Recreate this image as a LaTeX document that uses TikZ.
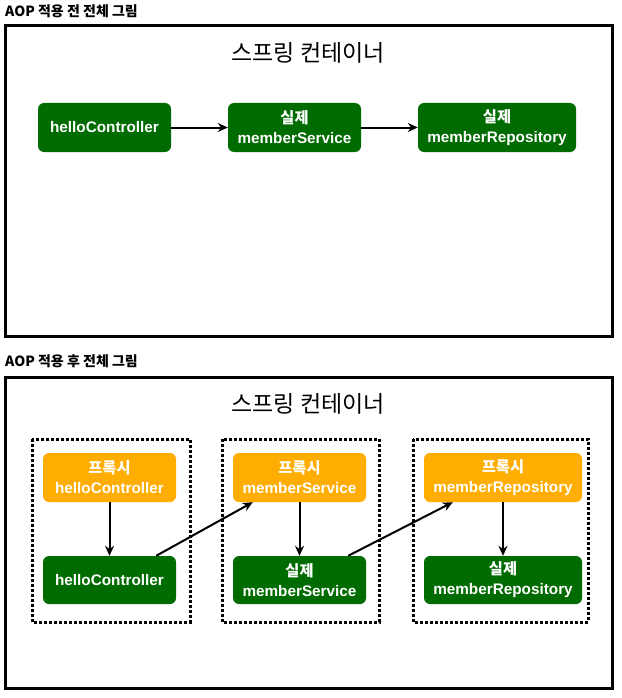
\documentclass[tikz,border=0pt]{standalone}
\usepackage{fontspec}
\setmainfont{Liberation Sans}
\newfontfamily\kr{Noto Sans CJK KR}
\usetikzlibrary{arrows.meta}
\definecolor{realgreen}{RGB}{0,107,0}
\definecolor{proxyorange}{RGB}{255,173,0}
\tikzset{
  box/.style={rectangle, rounded corners=6pt, minimum height=49pt, text=white,
    font=\fontsize{15.3}{20}\selectfont\bfseries, align=center, inner sep=0pt},
  realbox/.style={box, fill=realgreen},
  proxybox/.style={box, fill=proxyorange},
  frame/.style={draw=black, line width=3pt},
  dotbox/.style={draw=black, line width=3pt, dash pattern=on 2.6pt off 2.4pt},
  conn/.style={draw=black, line width=2pt, -{Stealth[length=10pt,width=9pt]}},
  heading/.style={anchor=west, font=\kr\bfseries\fontsize{14}{16}\selectfont, inner sep=0pt},
  ctitle/.style={font=\kr\fontsize{23}{27}\selectfont, inner sep=0pt}
}
\begin{document}
\begin{tikzpicture}[x=1pt,y=-1pt]
\useasboundingbox[fill=white] (0,0) rectangle (621,698);
% ---- before AOP ----
\node[heading] (h1) at (5,11) {AOP 적용 전 전체 그림};
\draw[frame] (5,26) rectangle (612,336);
\node[ctitle] (t1) at (308,53) {스프링 컨테이너};
\node[realbox, minimum width=133pt] (hc) at (104.5,127.5) {helloController};
\node[realbox, minimum width=133pt] (ms) at (294.5,127.5) {{\kr 실제}\\memberService};
\node[realbox, minimum width=158pt] (mr) at (497,127.5) {{\kr 실제}\\memberRepository};
\draw[conn] (hc) -- (ms);
\draw[conn] (ms) -- (mr);
% ---- after AOP ----
\node[heading] (h2) at (5,361) {AOP 적용 후 전체 그림};
\draw[frame] (5,377) rectangle (612,688);
\node[ctitle] (t2) at (308,404) {스프링 컨테이너};
\draw[dotbox] (32,439) rectangle (190,622);
\draw[dotbox] (222,439) rectangle (379,622);
\draw[dotbox] (413,439) rectangle (588,622);
\node[proxybox, minimum width=133pt] (p1) at (109.5,477.5) {{\kr 프록시}\\helloController};
\node[proxybox, minimum width=133pt] (p2) at (299.5,477.5) {{\kr 프록시}\\memberService};
\node[proxybox, minimum width=158pt] (p3) at (503,477.5) {{\kr 프록시}\\memberRepository};
\node[realbox, minimum width=133pt, minimum height=48pt] (g1) at (109.5,580) {helloController};
\node[realbox, minimum width=133pt, minimum height=48pt] (g2) at (299.5,580) {{\kr 실제}\\memberService};
\node[realbox, minimum width=158pt, minimum height=48pt] (g3) at (503,580) {{\kr 실제}\\memberRepository};
\draw[conn] (p1) -- (g1);
\draw[conn] (p2) -- (g2);
\draw[conn] (p3) -- (g3);
\draw[conn] ([xshift=-20pt]g1.north east) -- ([xshift=20pt]p2.south west);
\draw[conn] ([xshift=-18pt]g2.north east) -- ([xshift=29pt]p3.south west);
\end{tikzpicture}
\end{document}
